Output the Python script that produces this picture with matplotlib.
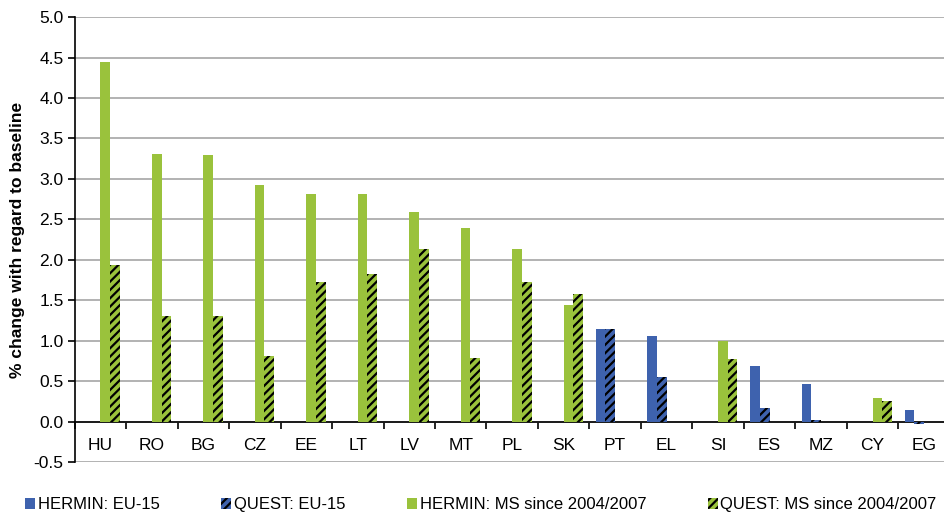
import numpy as np
import matplotlib
matplotlib.use('Agg')
import matplotlib.pyplot as plt

# Data (% change with regard to baseline)
countries = ['HU', 'RO', 'BG', 'CZ', 'EE', 'LT', 'LV', 'MT', 'PL', 'SK',
             'PT', 'EL', 'SI', 'ES', 'MZ', 'CY', 'EG']
nan = np.nan
hermin_eu15 = [nan, nan, nan, nan, nan, nan, nan, nan, nan, nan,
               1.15, 1.06, nan, 0.69, 0.47, nan, 0.14]
quest_eu15 = [nan, nan, nan, nan, nan, nan, nan, nan, nan, nan,
              1.15, 0.55, nan, 0.17, 0.02, nan, -0.03]
hermin_ms = [4.45, 3.31, 3.30, 2.92, 2.81, 2.81, 2.59, 2.39, 2.14, 1.44,
             nan, nan, 1.00, nan, nan, 0.29, nan]
quest_ms = [1.94, 1.31, 1.31, 0.81, 1.73, 1.82, 2.13, 0.79, 1.73, 1.58,
            nan, nan, 0.77, nan, nan, 0.25, nan]
series_labels = ['HERMIN: EU-15', 'QUEST: EU-15',
                 'HERMIN: MS since 2004/2007', 'QUEST: MS since 2004/2007']

blue = '#3E62AE'
green = '#9AC23C'

plt.rcParams['font.family'] = ['Liberation Sans', 'DejaVu Sans']
plt.rcParams['hatch.linewidth'] = 1.6
plt.rcParams['hatch.color'] = 'black'

fig = plt.figure(figsize=(9.45, 5.17), dpi=100)
ax = fig.add_axes([0.079, 0.106, 0.926, 0.861])

x = np.arange(len(countries))
w = 0.188

ax.bar(x - 1.5 * w, hermin_eu15, w, color=blue, label=series_labels[0], zorder=3)
ax.bar(x - 0.5 * w, quest_eu15, w, color=blue, edgecolor='black', linewidth=0,
       hatch='////', label=series_labels[1], zorder=3)
ax.bar(x + 0.5 * w, hermin_ms, w, color=green, label=series_labels[2], zorder=3)
ax.bar(x + 1.5 * w, quest_ms, w, color=green, edgecolor='black', linewidth=0,
       hatch='////', label=series_labels[3], zorder=3)

# Axes
ax.set_xlim(-0.5, len(countries) - 0.5)
ax.set_ylim(-0.5, 5.0)
ax.set_yticks(np.arange(-0.5, 5.01, 0.5))
ax.set_yticklabels(['%.1f' % v for v in np.arange(-0.5, 5.01, 0.5)])
ax.yaxis.grid(True, color='#A6A6A6', linewidth=1.2, zorder=0)
ax.tick_params(axis='y', direction='out', length=5, width=1.2, labelsize=12.5, pad=3)

ax.set_xticks(x)
ax.set_xticklabels(countries)
ax.set_xticks(np.arange(-0.5, len(countries) - 0.4, 1), minor=True)
ax.tick_params(axis='x', which='major', length=0, labelsize=12.5, pad=12)
ax.tick_params(axis='x', which='minor', direction='out', length=5, width=1.2)

ax.spines['bottom'].set_position(('data', 0))
ax.spines['bottom'].set_linewidth(1.2)
ax.spines['left'].set_linewidth(1.2)
ax.spines['top'].set_visible(False)
ax.spines['right'].set_visible(False)
ax.set_axisbelow(True)

ax.set_ylabel('% change with regard to baseline', fontsize=12.5, fontweight='bold', labelpad=6)

fig.legend(loc='lower left', bbox_to_anchor=(0.011, -0.02), ncol=4, frameon=False,
           fontsize=12, handlelength=0.6, handleheight=0.6, handletextpad=0.15,
           columnspacing=3.7)

fig.savefig('out.png', dpi=100)
